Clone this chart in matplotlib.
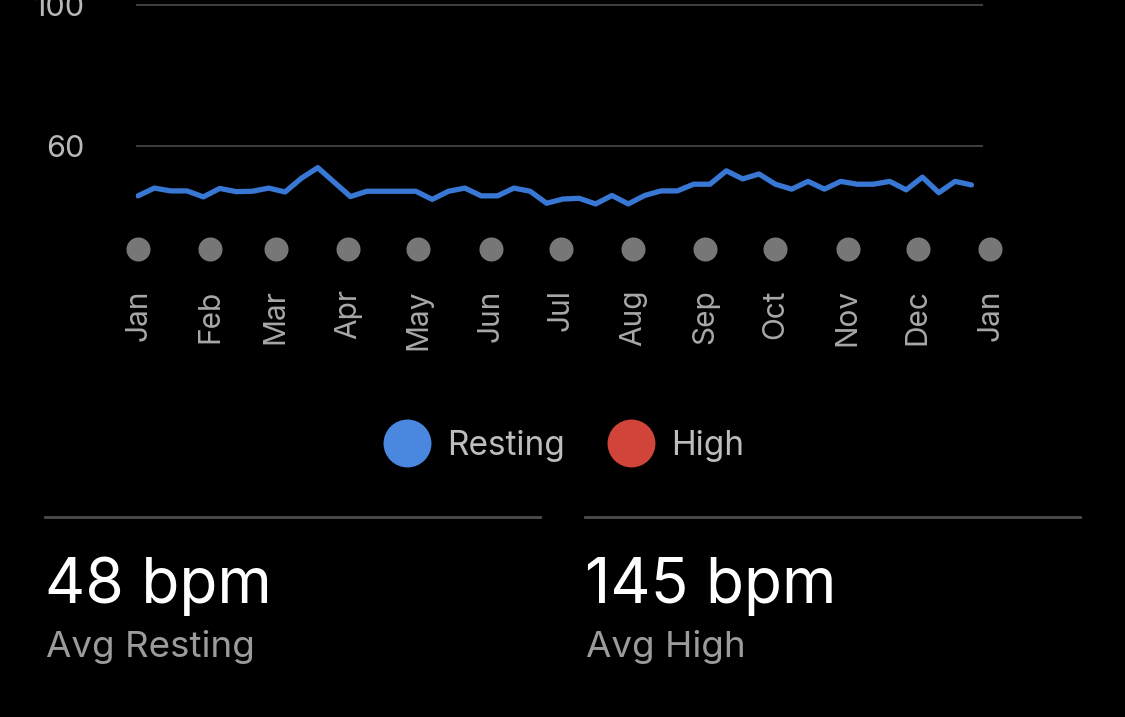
import matplotlib.pyplot as plt
from matplotlib.lines import Line2D

plt.rcParams['font.family'] = ['Inter', 'DejaVu Sans']

# weekly resting heart rate (bpm), one point per week from Jan 1
week_day = [7 * i for i in range(52)]
resting = [46.0, 48.2, 47.4, 47.4, 45.7, 48.1, 47.2, 47.3, 48.2, 47.1,
           51.0, 54.0, 49.9, 45.8, 47.3, 47.3, 47.3, 47.3, 45.0, 47.3,
           48.2, 46.0, 46.0, 48.2, 47.3, 43.9, 45.1, 45.3, 43.7, 46.1,
           43.7, 46.1, 47.4, 47.4, 49.3, 49.3, 53.1, 50.8, 52.2, 49.3,
           47.9, 50.1, 47.9, 50.1, 49.3, 49.3, 50.1, 47.7, 51.3, 46.9,
           50.1, 49.1]

month_start = [0, 31, 59, 90, 120, 151, 181, 212, 243, 273, 304, 334, 365]
month_labels = ['Jan', 'Feb', 'Mar', 'Apr', 'May', 'Jun', 'Jul', 'Aug',
                'Sep', 'Oct', 'Nov', 'Dec', 'Jan']
y_ticks = [60, 100]

legend_names = ['Resting', 'High']
legend_colors = ['#4a88e0', '#d0443a']

summary_values = ['48 bpm', '145 bpm']
summary_names = ['Avg Resting', 'Avg High']

W, H = 1125, 717
px_per_day = 2.3346
fig = plt.figure(figsize=(W / 100, H / 100), dpi=100)
fig.patch.set_facecolor('black')

# chart area: x 136..1010 px, y 0..249 px
ax = fig.add_axes([136 / W, 1 - 249 / H, 874 / W, 249 / H])
ax.set_facecolor('black')

ax.plot(week_day, resting, color='#3878d4', lw=3.8, solid_joinstyle='round',
        solid_capstyle='round', zorder=3)

# month markers along the bottom
ax.scatter(month_start, [0] * len(month_start), s=300, color='#777777',
           transform=ax.get_xaxis_transform(), clip_on=False, zorder=3,
           linewidths=0)

ax.set_xticks(month_start, month_labels, rotation=90)
ax.set_yticks(y_ticks, [str(v) for v in y_ticks])
ax.set_xlim(-0.86, -0.86 + 874 / px_per_day)
ax.set_ylim(30.92, 101.56)

# horizontal guide lines stop short of the last month marker
ax.hlines(y_ticks, -0.86, -0.86 + 847 / px_per_day, color='#444444', lw=1.3,
          zorder=1)

ax.tick_params(axis='x', length=0, pad=29, labelsize=21.5, labelcolor='#a8a8a8')
ax.tick_params(axis='y', length=0, pad=37, labelsize=22, labelcolor='#b8b8b8')
for s in ax.spines.values():
    s.set_visible(False)

# legend
handles = [Line2D([], [], ls='', marker='o', markersize=34.5, color=c,
                  markeredgewidth=0) for c in legend_colors]
fig.legend(handles, legend_names, loc='center', ncol=2, frameon=False,
           bbox_to_anchor=(564 / W, 1 - 446 / H), fontsize=24,
           labelcolor='#bdbdbd', handlelength=1.4, handletextpad=0.5,
           columnspacing=1.3)

# summary panels
for i, x0 in enumerate([45, 585]):
    fig.add_artist(Line2D([x0 / W, (x0 + 495) / W], [1 - 517 / H] * 2,
                          color='#4d4d4d', lw=2))
    fig.text(x0 / W, 1 - 603 / H, summary_values[i], color='white',
             fontsize=44.8, va='baseline', ha='left')
    fig.text((x0 + 1) / W, 1 - 657 / H, summary_names[i], color='#9b9b9b',
             fontsize=26.5, va='baseline', ha='left')

fig.savefig('out.png', dpi=100, facecolor='black')
